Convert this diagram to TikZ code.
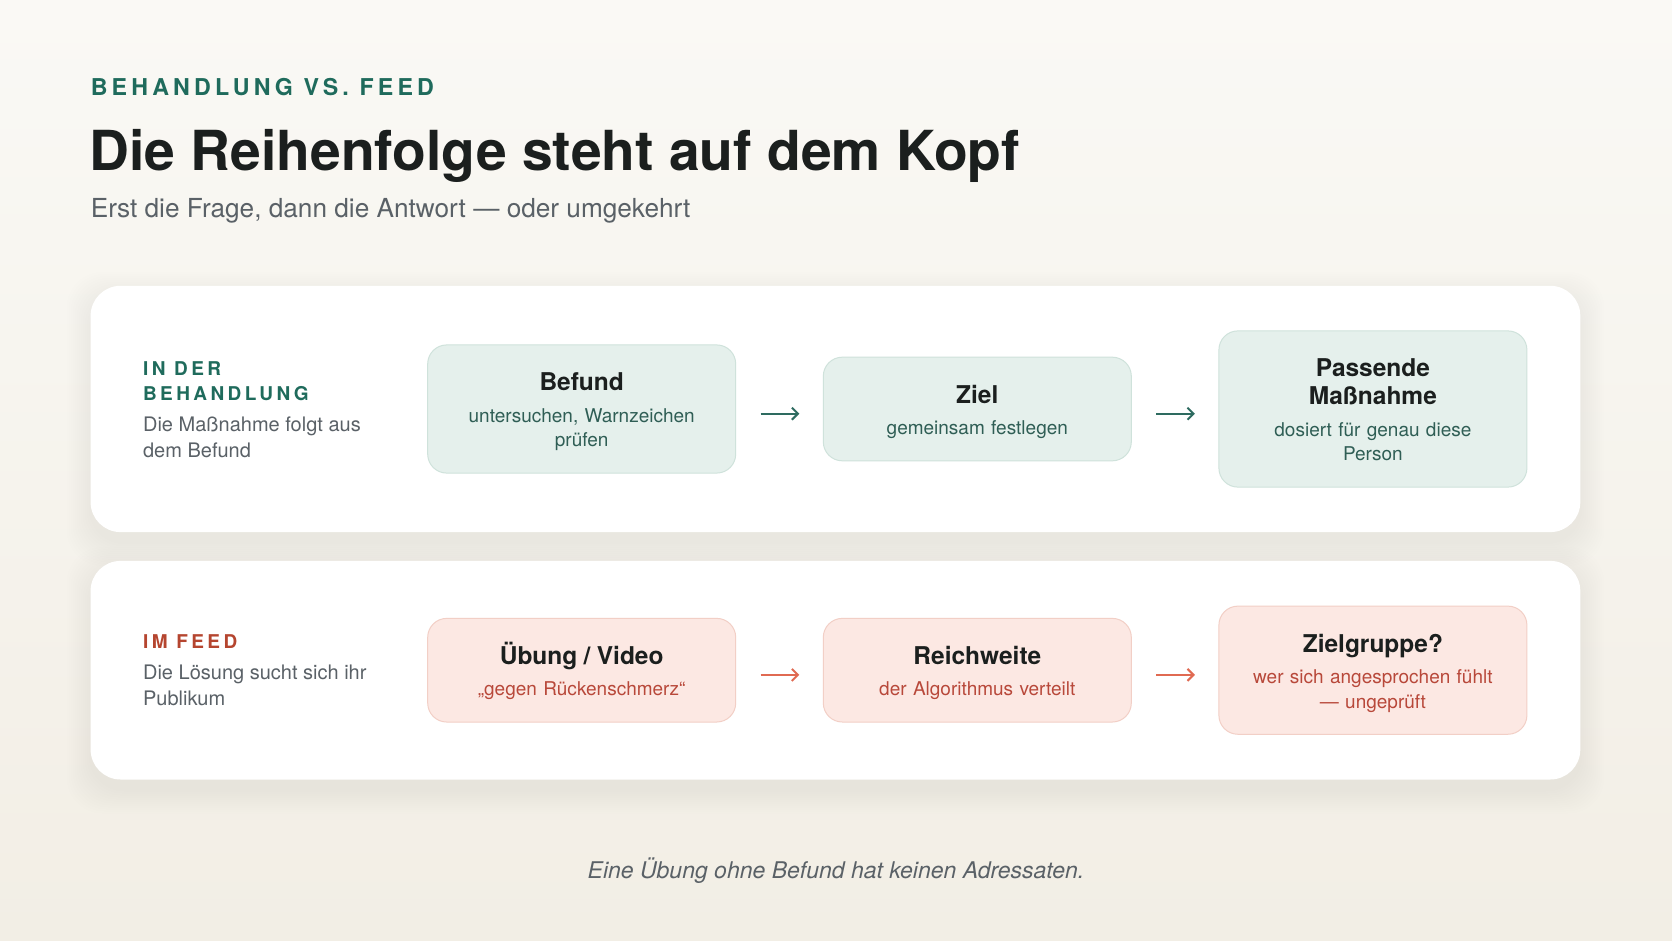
\documentclass[tikz,border=0pt]{standalone}
\usepackage{fontspec}
\setmainfont{TeX Gyre Heros}
\newfontfamily\spacedfont[LetterSpace=18]{TeX Gyre Heros}
\usetikzlibrary{arrows.meta}

\definecolor{bgtop}{HTML}{FAF9F5}
\definecolor{bgbot}{HTML}{F2EEE5}
\definecolor{tealmark}{HTML}{1F6B5C}
\definecolor{redmark}{HTML}{B5452F}
\definecolor{headink}{HTML}{1B1F1E}
\definecolor{greyink}{HTML}{5A6167}
\definecolor{tealfill}{HTML}{E5F0EC}
\definecolor{tealline}{HTML}{CFE2DB}
\definecolor{tealink}{HTML}{2F5E55}
\definecolor{tealarrow}{HTML}{2E6B60}
\definecolor{redfill}{HTML}{FCE8E3}
\definecolor{redline}{HTML}{F2CFC6}
\definecolor{redink}{HTML}{B8483A}
\definecolor{redarrow}{HTML}{E06A52}

\newcommand{\cardhead}[1]{{\fontsize{24.5}{27.7}\selectfont\bfseries\color{headink}\rule{0pt}{24pt}#1\par}\vspace{7pt}}

\tikzset{
  panel/.style={fill=white, rounded corners=30pt},
  card/.style={rounded corners=19pt, minimum width=308pt, text width=244pt, align=center,
    inner xsep=32pt, inner ysep=22pt, line width=1pt, font=\fontsize{19}{24.5}\selectfont},
  tealcard/.style={card, fill=tealfill, draw=tealline, text=tealink},
  redcard/.style={card, fill=redfill, draw=redline, text=redink},
  flow/.style={line width=2pt, -{Straight Barb[length=6pt,width=12pt]}, shorten <=24.5pt, shorten >=23.5pt},
  plain/.style={anchor=base west, inner sep=0pt},
  rowmark/.style={plain, font=\spacedfont\bfseries\fontsize{19}{24}\selectfont},
  rownote/.style={plain, text=greyink, font=\fontsize{20}{25}\selectfont}
}

\begin{document}
\begin{tikzpicture}[x=1pt, y=-1pt, node distance=395.6pt]
\useasboundingbox (0,0) rectangle (1672,941);
\shade[top color=bgtop, bottom color=bgbot] (0,0) rectangle (1672,941);

% header
\node(K) [plain, text=tealmark, font=\spacedfont\bfseries\fontsize{23.2}{27}\selectfont] at (90.6,96) {BEHANDLUNG VS. FEED};
\node(T) [plain, text=headink, font=\bfseries\fontsize{55.2}{64}\selectfont] at (89.5,170.6) {Die Reihenfolge steht auf dem Kopf};
\node(S) [plain, text=greyink, font=\fontsize{26.2}{30}\selectfont] at (90.6,218) {Erst die Frage, dann die Antwort — oder umgekehrt};

% soft shadows and panels
\foreach \s in {1,...,12} {
  \fill[black, opacity=0.005, rounded corners=36pt] (90.6-2*\s,285.8-2*\s+10) rectangle (1580.3+2*\s,532.1+2*\s+10);
  \fill[black, opacity=0.005, rounded corners=36pt] (90.6-2*\s,560.9-2*\s+10) rectangle (1580.3+2*\s,779.5+2*\s+10);
}
\fill[panel] (90.6,285.8) rectangle (1580.3,532.1);
\fill[panel] (90.6,560.9) rectangle (1580.3,779.5);

% in der Behandlung
\node(L1) [rowmark, text=tealmark] at (142.9,375.8) {IN DER};
\node(L2) [rowmark, text=tealmark] at (142.9,400.3) {BEHANDLUNG};
\node(D1) [rownote] at (142.9,431.4) {Die Maßnahme folgt aus};
\node(D2) [rownote] at (142.9,457) {dem Befund};

\node(B1) [tealcard] at (581.7,409) {\cardhead{Befund}untersuchen, Warnzeichen\\prüfen};
\node(B2) [tealcard, right of=B1] {\cardhead{Ziel}gemeinsam festlegen};
\node(B3) [tealcard, right of=B2] {\cardhead{Passende\\Maßnahme}dosiert für genau diese\\Person\rule[-4.5pt]{0pt}{1pt}};
\draw[flow, tealarrow] ([yshift=-4.7pt]B1.east) -- ([yshift=-4.7pt]B2.west);
\draw[flow, tealarrow] ([yshift=-4.7pt]B2.east) -- ([yshift=-4.7pt]B3.west);

% im Feed
\node(M1) [rowmark, text=redmark] at (142.9,648.7) {IM FEED};
\node(E1) [rownote] at (142.9,679.8) {Die Lösung sucht sich ihr};
\node(E2) [rownote] at (142.9,705.4) {Publikum};

\node(F1) [redcard] at (581.7,670.2) {\cardhead{\smash{Ü}bung / Video}„gegen Rückenschmerz“};
\node(F2) [redcard, right of=F1] {\cardhead{Reichweite}der Algorithmus verteilt};
\node(F3) [redcard, right of=F2] {\cardhead{Zielgruppe?}wer sich angesprochen fühlt\\— ungeprüft};
\draw[flow, redarrow] ([yshift=-4.7pt]F1.east) -- ([yshift=-4.7pt]F2.west);
\draw[flow, redarrow] ([yshift=-4.7pt]F2.east) -- ([yshift=-4.7pt]F3.west);

% footer
\node(N) [anchor=base, text=greyink, font=\itshape\fontsize{23}{28}\selectfont] at (836,878) {Eine Übung ohne Befund hat keinen Adressaten.};
\end{tikzpicture}
\end{document}
